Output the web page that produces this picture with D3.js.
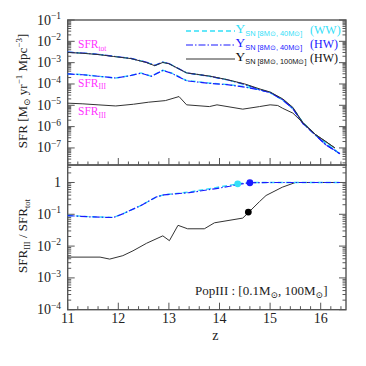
<!DOCTYPE html>
<html>
<head>
<meta charset="utf-8">
<script src="https://cdn.jsdelivr.net/npm/d3@7/dist/d3.min.js"></script>
<style>
  body { margin: 0; background: #fff; }
  svg { display: block; font-family: 'Liberation Serif', 'DejaVu Serif', serif; }
</style>
</head>
<body>
<div class="canvas"></div>
<script>
// ---- values ----
// top panel: total SFR (the three runs nearly coincide)
const zTot = [11, 11.3, 11.6, 11.9, 12.25, 12.55, 12.72, 12.88, 13.0, 13.35, 13.8, 14.15, 14.5, 14.8, 15.0, 15.25, 15.45, 15.65, 15.9, 16.1, 16.25, 16.38]
const totWW40 = [3.1e-3, 2.8e-3, 2.45e-3, 2.0e-3, 1.58e-3, 1.05e-3, 7.4e-4, 1.05e-3, 9.1e-4, 3.3e-4, 2.3e-4, 1.58e-4, 9.5e-5, 5.4e-5, 4.0e-5, 1.8e-5, 7.2e-6, 1.5e-6, 4.0e-7, 1.7e-7, 9.0e-8, 5.2e-8]
const totHW40 = [3.1e-3, 2.8e-3, 2.45e-3, 2.0e-3, 1.58e-3, 1.05e-3, 7.4e-4, 1.05e-3, 9.1e-4, 3.3e-4, 2.3e-4, 1.58e-4, 9.5e-5, 5.4e-5, 4.0e-5, 1.8e-5, 7.0e-6, 1.4e-6, 4.0e-7, 1.4e-7, 8.5e-8, 5.4e-8]
const zTotHW100 = [11, 11.3, 11.6, 11.9, 12.25, 12.55, 12.72, 12.88, 13.0, 13.35, 13.8, 14.15, 14.5, 14.8, 15.0, 15.25, 15.45, 15.65, 15.9, 16.1, 16.28]
const totHW100 = [3.0e-3, 2.75e-3, 2.4e-3, 1.95e-3, 1.55e-3, 1.02e-3, 7.2e-4, 1.02e-3, 8.9e-4, 3.3e-4, 2.35e-4, 1.6e-4, 1.0e-4, 5.8e-5, 4.2e-5, 2.0e-5, 8.0e-6, 1.5e-6, 4.2e-7, 2.0e-7, 1.0e-7]

// top panel: Pop III SFR
const zIII40 = [11, 11.3, 11.6, 11.95, 12.2, 12.45, 12.65, 12.88, 13.05, 13.35, 13.8, 14.15, 14.5, 14.8, 15.0, 15.25, 15.45, 15.65, 15.9, 16.1, 16.25, 16.38]
const iiiWW40 = [2.95e-4, 2.75e-4, 2.3e-4, 1.9e-4, 2.4e-4, 3.3e-4, 2.3e-4, 4.4e-4, 3.3e-4, 1.45e-4, 1.1e-4, 9.5e-5, 7.5e-5, 5.4e-5, 4.0e-5, 1.8e-5, 7.2e-6, 1.5e-6, 4.0e-7, 1.7e-7, 9.0e-8, 5.2e-8]
const iiiHW40 = [2.95e-4, 2.7e-4, 2.3e-4, 1.9e-4, 2.35e-4, 3.2e-4, 2.3e-4, 4.3e-4, 3.2e-4, 1.4e-4, 1.07e-4, 9.3e-5, 7.1e-5, 5.2e-5, 4.0e-5, 1.8e-5, 7.0e-6, 1.4e-6, 4.0e-7, 1.4e-7, 8.5e-8, 5.4e-8]
const zIII100 = [11, 11.3, 11.6, 11.95, 12.3, 12.6, 12.93, 13.2, 13.35, 13.8, 13.95, 14.46, 14.79, 15.0, 15.15, 15.25, 15.45, 15.65, 15.9, 16.1, 16.28]
const iiiHW100 = [1.26e-5, 1.17e-5, 1.05e-5, 9.3e-6, 1.12e-5, 1.4e-5, 1.66e-5, 2.57e-5, 1.05e-5, 8.7e-6, 1.05e-5, 6.6e-6, 8.7e-6, 1.05e-5, 9.8e-6, 7.2e-6, 4.3e-6, 1.5e-6, 4.2e-7, 2.0e-7, 1.0e-7]

// bottom panel: SFR_III / SFR_tot
const zRatio40 = [11, 11.45, 11.9, 12.1, 12.45, 12.75, 12.9, 13.4, 13.9, 14.2, 14.4, 14.6, 15.0, 15.5, 16.0, 16.38]
const ratioWW40 = [0.092, 0.084, 0.08, 0.105, 0.19, 0.35, 0.41, 0.5, 0.68, 0.82, 0.93, 1, 1, 1, 1, 1]
const ratioHW40 = [0.091, 0.083, 0.079, 0.105, 0.19, 0.35, 0.41, 0.48, 0.63, 0.76, 0.89, 0.98, 1, 1, 1, 1]
const zRatio100 = [11, 11.64, 11.83, 12.09, 12.29, 12.56, 12.88, 13.01, 13.18, 13.37, 13.7, 13.9, 14.46, 14.58, 14.79, 14.92, 15.24, 15.5, 16.0, 16.38]
const ratioHW100 = [4.5e-3, 4.5e-3, 3.9e-3, 5.0e-3, 7.1e-3, 1.23e-2, 2.1e-2, 1.48e-2, 4.5e-2, 3.5e-2, 3.5e-2, 5.4e-2, 7.6e-2, 0.117, 0.25, 0.39, 0.71, 1, 1, 1]

// markers on the ratio curves
const dotZ = [14.36, 14.6, 14.57]
const dotRatio = [0.91, 0.98, 0.117]
const dotColor = ['#33e0f8', '#1a1aff', '#000']

const topTicks = [1e-7, 1e-6, 1e-5, 1e-4, 1e-3, 1e-2, 1e-1]
const botTicks = [1e-4, 1e-3, 1e-2, 1e-1, 1]
const zTicks = [11, 12, 13, 14, 15, 16]

// ---- layout ----
const W = 366, H = 366
const left = 67.7, right = 346
const topY0 = 20, topY1 = 165, botY1 = 309.7

const svg = d3.select('.canvas')
  .append('svg')
    .attr('width', W)
    .attr('height', H)

const x = d3.scaleLinear().domain([11, 16.5]).range([left, right])
const yTop = d3.scaleLog().domain([Math.pow(10, -7.8), 0.1]).range([topY1, topY0])
const yBot = d3.scaleLog().domain([1e-4, Math.pow(10, 0.55)]).range([botY1, topY1])

const cyan = '#33e0f8', blue = '#1a1aff', black = '#333'

// log minor ticks for a scale
function logMinor(scale) {
  const [a, b] = scale.domain()
  const out = []
  for (let e = Math.floor(Math.log10(a)); e <= Math.ceil(Math.log10(b)); e++) {
    for (let k = 1; k <= 9; k++) {
      const v = k * Math.pow(10, e)
      if (v >= a && v <= b) out.push({v, major: k === 1})
    }
  }
  return out
}

function drawPanel(y, y0, y1) {
  const g = svg.append('g')
  // y ticks left and right
  logMinor(y).forEach((t) => {
    const len = t.major ? 7 : 3.5
    g.append('line').attr('x1', left).attr('x2', left + len)
      .attr('y1', y(t.v)).attr('y2', y(t.v)).attr('stroke', '#444').attr('stroke-width', 0.9)
    g.append('line').attr('x1', right).attr('x2', right - len)
      .attr('y1', y(t.v)).attr('y2', y(t.v)).attr('stroke', '#444').attr('stroke-width', 0.9)
  })
  // x ticks along the bottom edge
  d3.range(11, 16.5001, 0.2).forEach((z) => {
    const major = Math.abs(z - Math.round(z)) < 1e-6
    g.append('line').attr('x1', x(z)).attr('x2', x(z))
      .attr('y1', y1).attr('y2', y1 - (major ? 7 : 3.5))
      .attr('stroke', '#444').attr('stroke-width', 0.9)
  })
  // frame
  g.append('rect').attr('x', left).attr('y', y0)
    .attr('width', right - left).attr('height', y1 - y0)
    .attr('fill', 'none').attr('stroke', '#555').attr('stroke-width', 1.4)
  return g
}

drawPanel(yTop, topY0, topY1)
drawPanel(yBot, topY1, botY1)

// tick labels 10^n
function decadeLabel(sel, v) {
  const e = Math.round(Math.log10(v))
  if (e === 0) { sel.text('1'); return }
  sel.append('tspan').text('10')
  sel.append('tspan').attr('dy', -5.5).attr('font-size', 9.5).text('\u2212' + (-e))
}

topTicks.forEach((v) => {
  svg.append('text').attr('x', 61).attr('y', yTop(v) + 4.5)
    .attr('text-anchor', 'end').attr('font-size', 14).attr('fill', '#222')
    .call(decadeLabel, v)
})
botTicks.forEach((v) => {
  svg.append('text').attr('x', 61).attr('y', yBot(v) + 4.5)
    .attr('text-anchor', 'end').attr('font-size', 14).attr('fill', '#222')
    .call(decadeLabel, v)
})
zTicks.forEach((z) => {
  svg.append('text').attr('x', x(z)).attr('y', 323)
    .attr('text-anchor', 'middle').attr('font-size', 14).attr('fill', '#222')
    .text(z)
})

// ---- curves ----
const lineTop = d3.line().x((d) => x(d[0])).y((d) => yTop(d[1]))
const lineBot = d3.line().x((d) => x(d[0])).y((d) => yBot(d[1]))
const pairs = (zs, vs) => zs.map((z, i) => [z, vs[i]])

const styles = {
  ww40: {stroke: cyan, dash: '5,3', width: 1.4},
  hw40: {stroke: blue, dash: '7,2,1.5,2', width: 1.2},
  hw100: {stroke: black, dash: null, width: 1}
}

function drawLine(gen, data, s) {
  svg.append('path').datum(data)
    .attr('d', gen)
    .attr('fill', 'none')
    .attr('stroke', s.stroke)
    .attr('stroke-width', s.width)
    .attr('stroke-dasharray', s.dash)
}

drawLine(lineTop, pairs(zTot, totWW40), styles.ww40)
drawLine(lineTop, pairs(zIII40, iiiWW40), styles.ww40)
drawLine(lineTop, pairs(zTot, totHW40), styles.hw40)
drawLine(lineTop, pairs(zIII40, iiiHW40), styles.hw40)
drawLine(lineTop, pairs(zIII100, iiiHW100), styles.hw100)
drawLine(lineTop, pairs(zTotHW100, totHW100), styles.hw100)

drawLine(lineBot, pairs(zRatio100, ratioHW100), styles.hw100)
drawLine(lineBot, pairs(zRatio40, ratioWW40), styles.ww40)
drawLine(lineBot, pairs(zRatio40, ratioHW40), styles.hw40)

svg.selectAll('circle.dot')
  .data(dotZ)
  .enter()
  .append('circle')
    .attr('class', 'dot')
    .attr('cx', (d) => x(d))
    .attr('cy', (d, i) => yBot(dotRatio[i]))
    .attr('r', 3.4)
    .attr('fill', (d, i) => dotColor[i])

// ---- magenta curve labels ----
const magenta = '#ff33ff'
function subLabel(xp, yp, main, sub) {
  const t = svg.append('text').attr('x', xp).attr('y', yp)
    .attr('font-size', 11.5).attr('fill', magenta)
  t.append('tspan').text(main)
  t.append('tspan').attr('dy', 2.5).attr('font-size', 7.5).text(sub)
}
subLabel(78, 48, 'SFR', 'tot')
subLabel(78, 86.5, 'SFR', 'III')
subLabel(78, 115, 'SFR', 'III')

// ---- legend ----
const legRows = [
  {y: 31, s: styles.ww40, sub: 'SN [8M\u2299, 40M\u2299]', tag: '(WW)', tagColor: cyan},
  {y: 45, s: styles.hw40, sub: 'SN [8M\u2299, 40M\u2299]', tag: '(HW)', tagColor: blue},
  {y: 59, s: styles.hw100, sub: 'SN [8M\u2299, 100M\u2299]', tag: '(HW)', tagColor: '#111'}
]
legRows.forEach((r) => {
  svg.append('line').attr('x1', 186).attr('x2', 235).attr('y1', r.y).attr('y2', r.y)
    .attr('stroke', r.s.stroke).attr('stroke-width', r.s.width).attr('stroke-dasharray', r.s.dash)
  const t = svg.append('text').attr('x', 235.5).attr('y', r.y + 2.3)
    .attr('fill', r.s.stroke === black ? '#111' : r.s.stroke)
  t.append('tspan').attr('font-size', 13.5).text('Y')
  t.append('tspan').attr('dy', 2.5).attr('font-size', 7.4)
    .attr('font-family', "'Liberation Sans', sans-serif").text(r.sub)
  svg.append('text').attr('x', 310).attr('y', r.y + 2.5)
    .attr('font-size', 12).attr('fill', r.tagColor).text(r.tag)
})

// PopIII mass range note
const pop = svg.append('text').attr('x', 195).attr('y', 294.5)
  .attr('font-size', 13).attr('fill', '#222')
pop.append('tspan').text('PopIII : [0.1M')
pop.append('tspan').attr('dy', 3).attr('font-size', 9).text('\u2299')
pop.append('tspan').attr('dy', -3).text(', 100M')
pop.append('tspan').attr('dy', 3).attr('font-size', 9).text('\u2299')
pop.append('tspan').attr('dy', -3).text(']')

// ---- axis titles ----
svg.append('text').attr('x', x(13.92)).attr('y', 340)
  .attr('text-anchor', 'middle').attr('font-size', 14).attr('fill', '#222').text('z')

const yt = svg.append('text')
  .attr('transform', 'translate(27,91) rotate(-90)')
  .attr('text-anchor', 'middle').attr('font-size', 13).attr('fill', '#222')
yt.append('tspan').text('SFR [M')
yt.append('tspan').attr('dy', 3).attr('font-size', 9).text('\u2299')
yt.append('tspan').attr('dy', -3).text(' yr')
yt.append('tspan').attr('dy', -5).attr('font-size', 9).text('\u22121')
yt.append('tspan').attr('dy', 5).text(' Mpc')
yt.append('tspan').attr('dy', -5).attr('font-size', 9).text('\u22123')
yt.append('tspan').attr('dy', 5).text(']')

const yb = svg.append('text')
  .attr('transform', 'translate(27,236) rotate(-90)')
  .attr('text-anchor', 'middle').attr('font-size', 13).attr('fill', '#222')
yb.append('tspan').text('SFR')
yb.append('tspan').attr('dy', 3).attr('font-size', 8.5).text('III')
yb.append('tspan').attr('dy', -3).text('  /  SFR')
yb.append('tspan').attr('dy', 3).attr('font-size', 8.5).text('tot')
</script>
</body>
</html>
